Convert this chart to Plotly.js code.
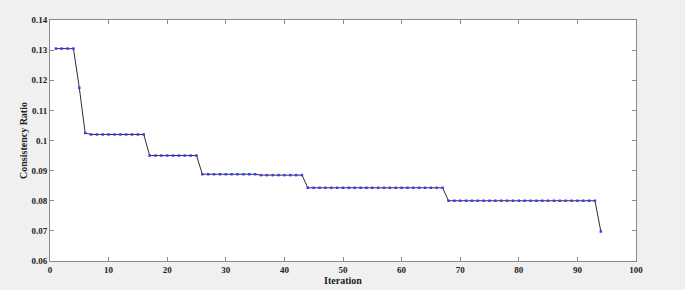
<!DOCTYPE html>
<html>
<head>
<meta charset="utf-8">
<script src="https://cdn.plot.ly/plotly-3.0.1.min.js"></script>
<style>html,body{margin:0;padding:0;background:#f0f0f0;}#chart{width:685px;height:290px;}</style>
</head>
<body>
<div id="chart"></div>
<script>
// Iteration numbers and consistency ratio values
const iterations = [];
for (let i = 1; i <= 94; i++) iterations.push(i);
const ratio = [
  0.1305, 0.1305, 0.1305, 0.1305,
  0.1175,
  0.1025,
  0.1020, 0.1020, 0.1020, 0.1020, 0.1020, 0.1020, 0.1020, 0.1020, 0.1020, 0.1020,
  0.0950, 0.0950, 0.0950, 0.0950, 0.0950, 0.0950, 0.0950, 0.0950, 0.0950,
  0.0888, 0.0888, 0.0888, 0.0888, 0.0888, 0.0888, 0.0888, 0.0888, 0.0888, 0.0888,
  0.0885, 0.0885, 0.0885, 0.0885, 0.0885, 0.0885, 0.0885, 0.0885,
  0.0843, 0.0843, 0.0843, 0.0843, 0.0843, 0.0843, 0.0843, 0.0843, 0.0843, 0.0843, 0.0843, 0.0843,
  0.0843, 0.0843, 0.0843, 0.0843, 0.0843, 0.0843, 0.0843, 0.0843, 0.0843, 0.0843, 0.0843, 0.0843,
  0.0800, 0.0800, 0.0800, 0.0800, 0.0800, 0.0800, 0.0800, 0.0800, 0.0800, 0.0800, 0.0800, 0.0800, 0.0800,
  0.0800, 0.0800, 0.0800, 0.0800, 0.0800, 0.0800, 0.0800, 0.0800, 0.0800, 0.0800, 0.0800, 0.0800, 0.0800,
  0.0698
];
const yTickVals = [0.06, 0.07, 0.08, 0.09, 0.10, 0.11, 0.12, 0.13, 0.14];
const yTickText = ["0.06", "0.07", "0.08", "0.09", "0.1", "0.11", "0.12", "0.13", "0.14"];
const xTickVals = [0, 10, 20, 30, 40, 50, 60, 70, 80, 90, 100];

const font = {family: '"Liberation Serif", "Times New Roman", serif', size: 9, color: '#222'};

const trace = {
  x: iterations,
  y: ratio,
  type: 'scatter',
  mode: 'lines+markers',
  line: {color: '#2e2e2e', width: 1},
  marker: {color: '#3a3aff', size: 2.5, symbol: 'square'},
  hoverinfo: 'x+y'
};

const axisCommon = {
  showgrid: false,
  zeroline: false,
  showline: true,
  linecolor: '#8a8a8a',
  linewidth: 1,
  mirror: 'ticks',
  ticks: 'inside',
  ticklen: 4,
  tickcolor: '#8a8a8a',
  tickfont: {family: font.family, size: 9, color: '#222', weight: 'bold'}
};

const layout = {
  width: 685,
  height: 290,
  paper_bgcolor: '#f0f0f0',
  plot_bgcolor: '#ffffff',
  margin: {l: 50, r: 49, t: 20, b: 29},
  showlegend: false,
  font: font,
  xaxis: Object.assign({}, axisCommon, {
    range: [0, 100],
    tickvals: xTickVals,
    title: {text: '<b>Iteration</b>', font: {family: font.family, size: 10, color: '#222'}, standoff: 1}
  }),
  yaxis: Object.assign({}, axisCommon, {
    range: [0.06, 0.14],
    tickvals: yTickVals,
    ticktext: yTickText,
    title: {text: '<b>Consistency Ratio</b>', font: {family: font.family, size: 10, color: '#222'}, standoff: 1}
  })
};

Plotly.newPlot('chart', [trace], layout, {displayModeBar: false, staticPlot: true});
</script>
</body>
</html>
